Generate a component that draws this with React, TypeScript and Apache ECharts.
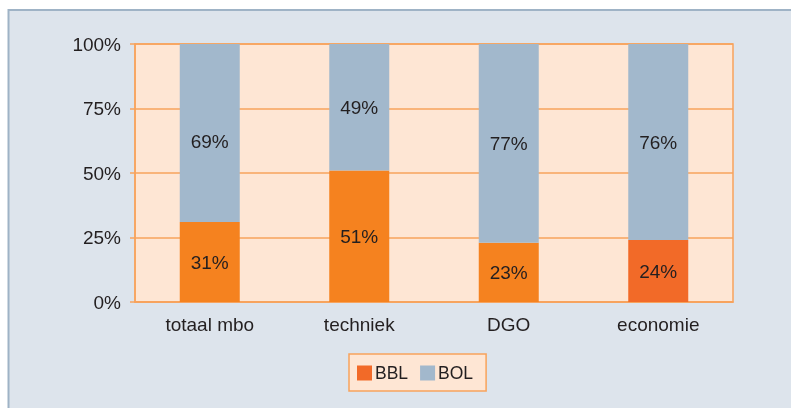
import React, { useEffect, useRef } from "react";
import * as echarts from "echarts";

const categories = ["totaal mbo", "techniek", "DGO", "economie"];
const bbl = [31, 51, 23, 24];
const bol = [69, 49, 77, 76];
const yTicks = [0, 25, 50, 75, 100];

const FONT = "Liberation Sans, Arial, sans-serif";
const ORANGE = "#f5821f";
const RED_ORANGE = "#f26a28";
const BLUE = "#a2b8cc";
const TEXT = "#231f20";

export default function App() {
  const ref = useRef<HTMLDivElement>(null);
  useEffect(() => {
    const chart = echarts.init(ref.current!, undefined, { renderer: "svg" });
    chart.setOption({
      animation: false,
      textStyle: { fontFamily: FONT },
      graphic: [
        {
          type: "rect",
          shape: { x: 8.5, y: 10, width: 800, height: 420 },
          style: { fill: "#dde4ec", stroke: "#9fb3c6", lineWidth: 2 },
          z: -10,
        },
      ],
      grid: {
        left: 135,
        top: 44,
        width: 598,
        height: 258,
        show: true,
        backgroundColor: "#fee6d4",
        borderColor: "#f7a35c",
        borderWidth: 1.5,
      },
      legend: {
        left: 349,
        top: 354,
        padding: [10, 13, 9, 8],
        itemGap: 12,
        itemWidth: 15,
        itemHeight: 15,
        icon: "rect",
        backgroundColor: "#fee6d4",
        borderColor: "#f7a35c",
        borderWidth: 1.5,
        data: [
          { name: "BBL", itemStyle: { color: RED_ORANGE } },
          { name: "BOL", itemStyle: { color: BLUE } },
        ],
        textStyle: { fontSize: 17.5, color: TEXT, fontFamily: FONT, padding: [0, 0, 0, -2] },
      },
      xAxis: {
        type: "category",
        data: categories,
        axisLine: { show: true, lineStyle: { color: "#f7a35c", width: 1.5 } },
        axisTick: { show: false },
        axisLabel: { fontSize: 19, color: TEXT, margin: 13, fontFamily: FONT },
        splitLine: { show: false },
      },
      yAxis: {
        type: "value",
        min: 0,
        max: 100,
        interval: 25,
        axisLine: { show: true, lineStyle: { color: "#f7a35c", width: 1.5 } },
        axisTick: { show: true, length: 5, lineStyle: { color: "#f7a35c", width: 1.5 } },
        axisLabel: {
          fontSize: 19,
          color: TEXT,
          margin: 14,
          fontFamily: FONT,
          formatter: (v: number) => (yTicks.includes(v) ? v + "%" : ""),
        },
        splitLine: { show: true, lineStyle: { color: "#f7a35c", width: 1.5 } },
      },
      series: [
        {
          name: "BBL",
          type: "bar",
          stack: "s",
          barWidth: 60,
          itemStyle: { color: ORANGE },
          data: bbl.map((v, i) => ({
            value: v,
            itemStyle: { color: i === 3 ? RED_ORANGE : ORANGE },
          })),
          label: {
            show: true,
            position: "inside",
            formatter: "{c}%",
            fontSize: 19,
            color: TEXT,
            fontFamily: FONT,
          },
        },
        {
          name: "BOL",
          type: "bar",
          stack: "s",
          barWidth: 60,
          itemStyle: { color: BLUE },
          data: bol.map((v, i) => ({
            value: v,
            label: i === 0 ? { offset: [0, 8] } : undefined,
          })),
          label: {
            show: true,
            position: "inside",
            formatter: "{c}%",
            fontSize: 19,
            color: TEXT,
            fontFamily: FONT,
          },
        },
      ],
    });
    return () => chart.dispose();
  }, []);
  return (
    <div
      ref={ref}
      style={{ position: "fixed", left: 0, top: 0, width: 791, height: 408 }}
    />
  );
}
